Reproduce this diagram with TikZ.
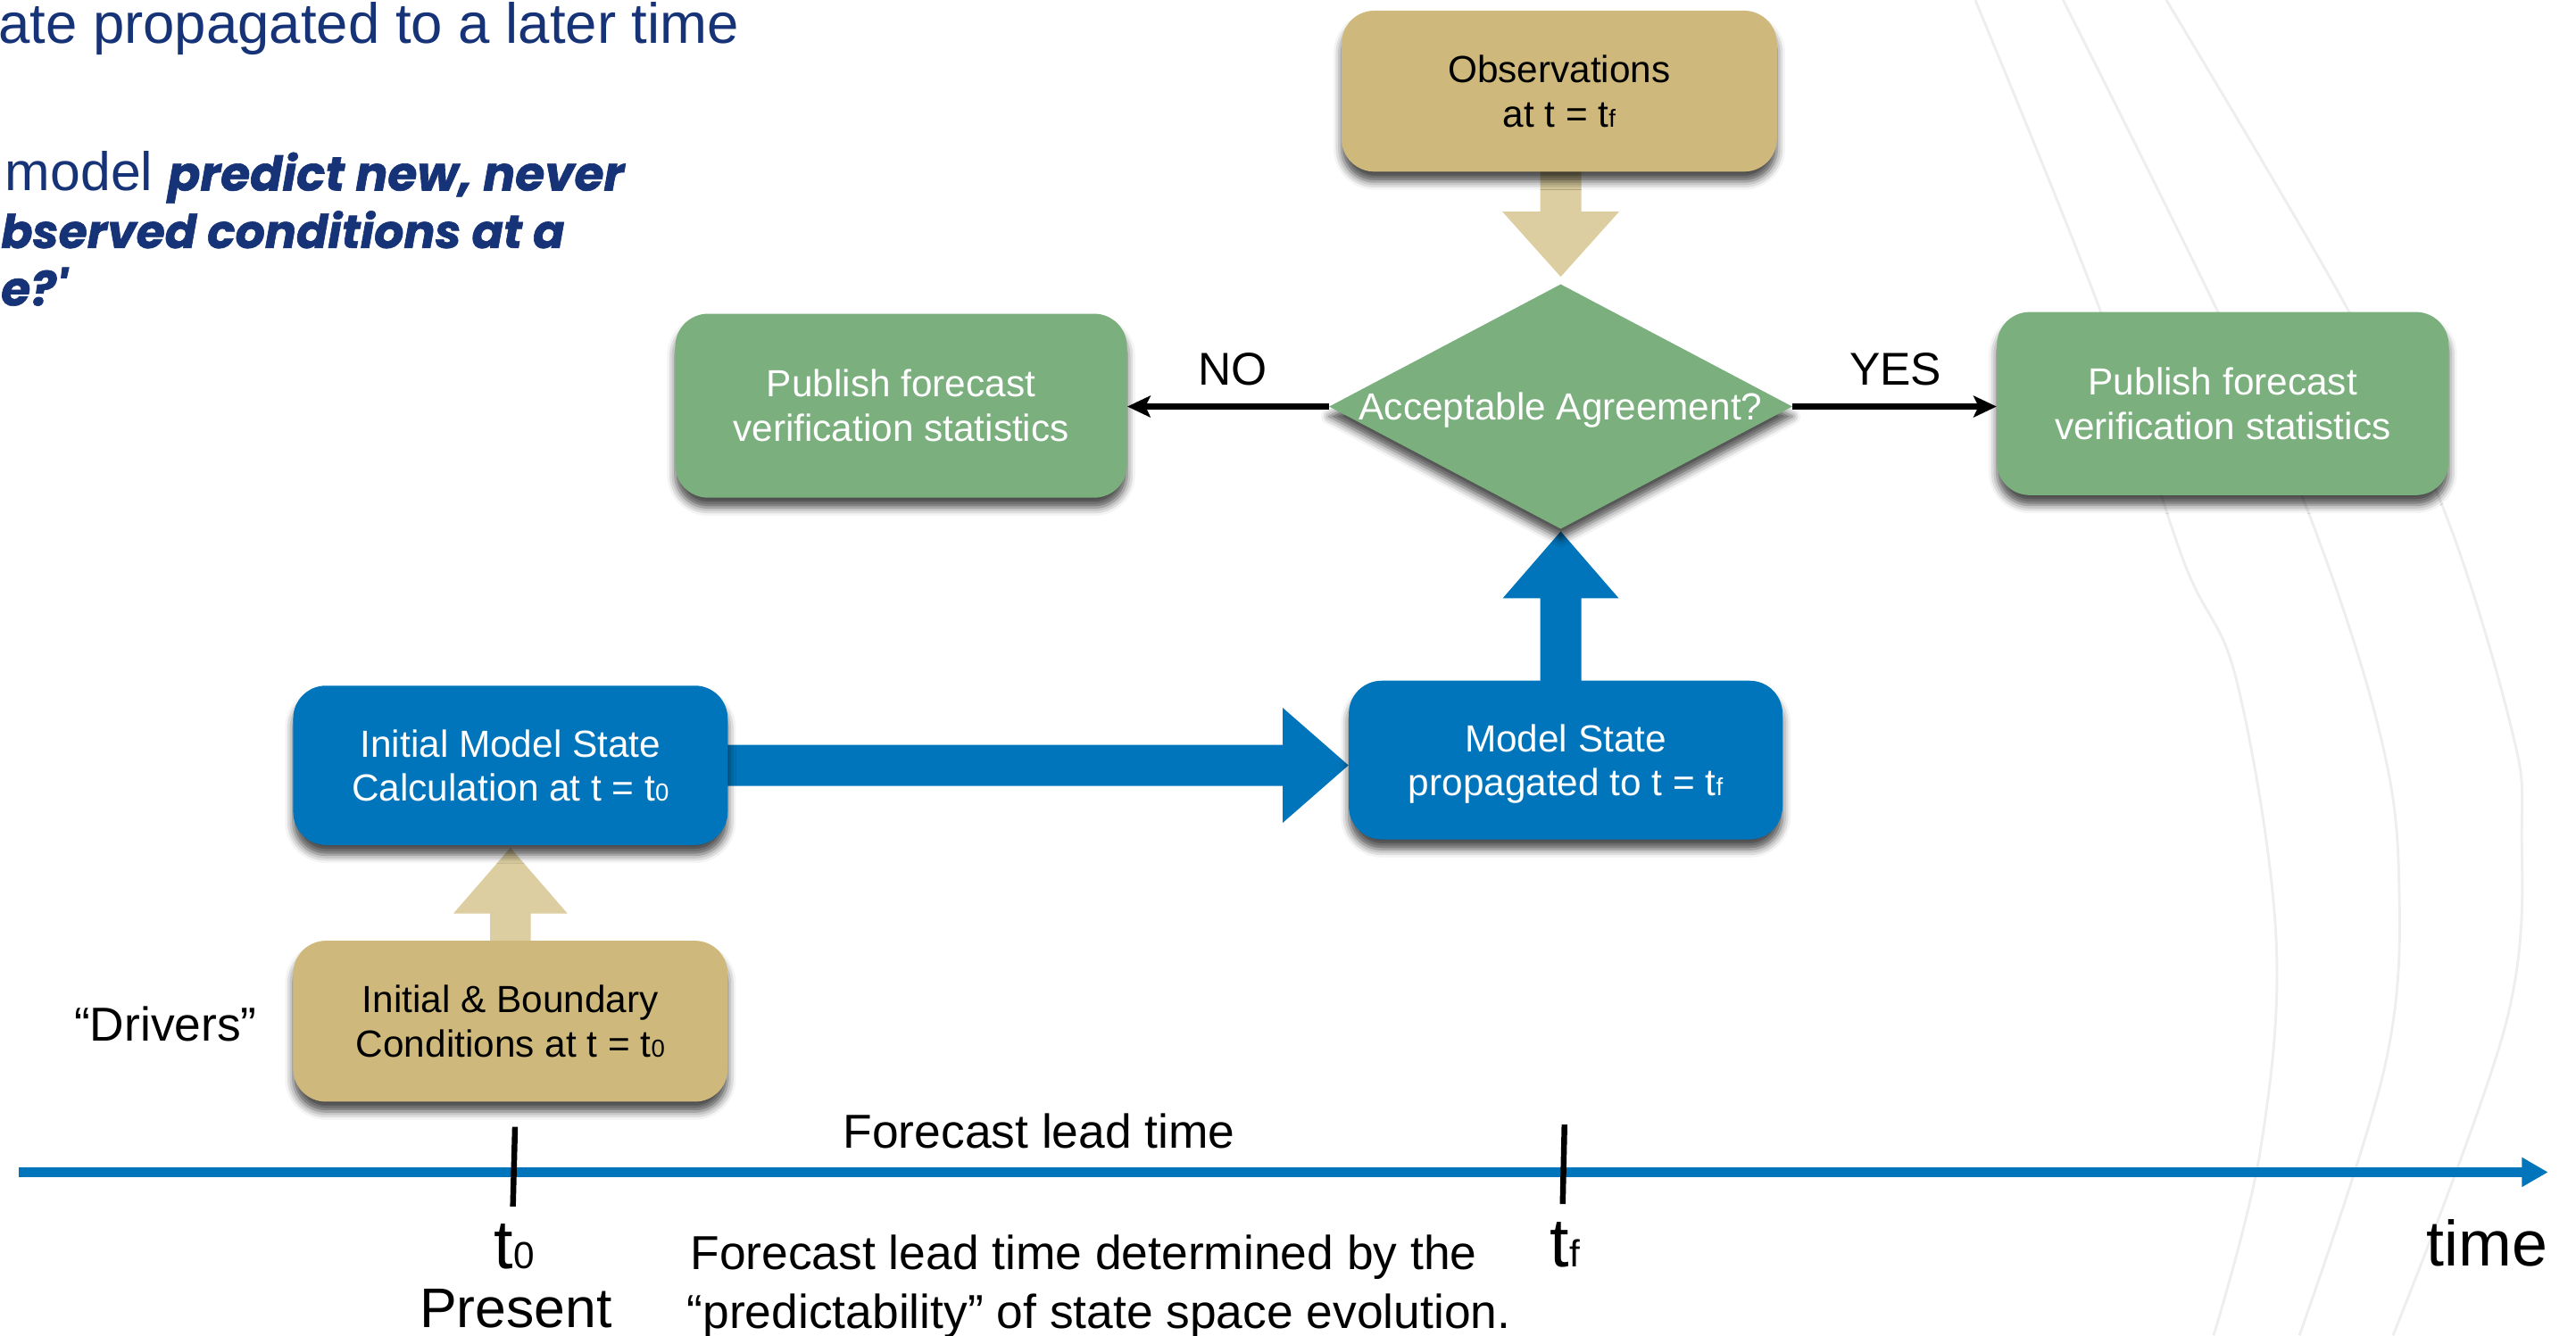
\documentclass[tikz,border=0pt]{standalone}
\usepackage{fontspec}
\usepackage{graphicx}
\setmainfont{Liberation Sans}
\newfontfamily\popfont{Poppins}[BoldItalicFeatures={FakeBold=1.2}]
\usetikzlibrary{shapes.geometric,arrows.meta,calc,shadows.blur}
\pgfdeclarelayer{bg}
\pgfsetlayers{bg,main}
\definecolor{mblue}{RGB}{0,117,187}
\definecolor{mgreen}{RGB}{123,175,126}
\definecolor{mtan}{RGB}{206,184,124}
\definecolor{ltan}{RGB}{220,206,160}
\definecolor{navy}{RGB}{22,51,119}
\definecolor{bgl}{RGB}{238,238,238}
\newcommand{\fs}[2]{\fontsize{#1}{#2}\selectfont}
\newcommand{\bsub}[1]{{\fontsize{15}{15}\selectfont #1}}
\newcommand{\asub}[1]{{\fontsize{23}{23}\selectfont #1}}
\tikzset{
  shd/.style={blur shadow={shadow xshift=0pt,shadow yshift=-6pt,shadow blur radius=5pt,shadow opacity=70}},
  rbox/.style={rounded corners=20pt, inner sep=0pt, align=center, font=\fs{23}{27}, shd},
  bluebox/.style={rbox, fill=mblue, text=white},
  greenbox/.style={rbox, fill=mgreen, text=white},
  tanbox/.style={rbox, fill=mtan, text=black},
  conn/.style={line width=3.8pt, -{Stealth[length=14pt,width=13pt,inset=3pt]}},
  lbl/.style={inner sep=0pt, text=black},
  bgcurve/.style={draw=bgl, line width=1.6pt},
}
\begin{document}
\begin{tikzpicture}[x=1pt,y=-1pt]
\useasboundingbox (0,0) rectangle (1568,813);
% ---------- nodes ----------
\node[tanbox, minimum width=265pt, minimum height=98pt] (obs) at (949.1,55.5) {Observations\\at t = t\bsub{f}};
\node[greenbox, minimum width=275pt, minimum height=112pt] (pubL) at (548.5,247) {Publish forecast\\verification statistics};
\node[greenbox, minimum width=275pt, minimum height=111.5pt] (pubR) at (1353,245.7) {Publish forecast\\verification statistics};
\node[diamond, fill=mgreen, minimum width=282pt, minimum height=149pt, inner sep=0pt, shd] (dia) at (950,247.5) {};
\node[lbl, text=white, font=\fs{23}{27}, anchor=base] (diat) at (950,255.5) {Acceptable Agreement?};
\node[bluebox, minimum width=264.5pt, minimum height=97pt, text depth=-2pt] (init) at (310.7,465.9) {Initial Model State\\Calculation at t = t\bsub{0}};
\node[bluebox, minimum width=264pt, minimum height=96.6pt, text depth=-2pt] (model) at (953,462.7) {Model State\\propagated to t = t\bsub{f}};
\node[tanbox, minimum width=264.5pt, minimum height=98pt] (ibc) at (310.7,621.7) {Initial \& Boundary\\Conditions at t = t\bsub{0}};
% ---------- background layer: curves and block arrows ----------
\begin{pgfonlayer}{bg}
\clip (0,0) rectangle (1568,813);
\draw[bgcurve] plot[smooth, tension=0.6] coordinates {(1202.3,0) (1278.4,189) (1328.4,339.6) (1361.5,414.7) (1385.4,570.3) (1375.9,700) (1347.4,813)};
\draw[bgcurve] plot[smooth, tension=0.6] coordinates {(1255.8,0) (1349.6,189) (1404.5,310.4) (1447.2,440.7) (1460.2,534) (1451.9,648) (1399.6,813)};
\draw[bgcurve] plot[smooth, tension=0.6] coordinates {(1318.6,0) (1429.4,189) (1487.6,310.4) (1528,440.7) (1535,502.9) (1525.6,622) (1456.6,813)};
% tan arrow obs -> dia
\coordinate (dtip) at ($(dia.north)+(0,-4.3)$);
\coordinate (dtop) at (dia.north |- obs.south);
\fill[ltan] ($(dtop)+(-12.5,-2)$) -- ($(dtop)+(12.5,-2)$) -- ($(dtip)+(12.5,-39.6)$) -- ($(dtip)+(35.5,-39.6)$) -- (dtip) -- ($(dtip)+(-35.5,-39.6)$) -- ($(dtip)+(-12.5,-39.6)$) -- cycle;
% tan arrow ibc -> init
\coordinate (utip) at ($(init.south)+(0,1.5)$);
\coordinate (ubot) at (utip |- ibc.north);
\fill[ltan] ($(ubot)+(-12.3,2)$) -- ($(utip)+(-12.3,40)$) -- ($(utip)+(-34.7,40)$) -- (utip) -- ($(utip)+(34.7,40)$) -- ($(utip)+(12.3,40)$) -- ($(ubot)+(12.3,2)$) -- cycle;
% blue arrow init -> model
\coordinate (rtip) at (model.west |- init.east);
\fill[mblue] ($(init.east)+(-2,-12.5)$) -- ($(rtip)+(-40,-12.5)$) -- ($(rtip)+(-40,-35)$) -- (rtip) -- ($(rtip)+(-40,35)$) -- ($(rtip)+(-40,12.5)$) -- ($(init.east)+(-2,12.5)$) -- cycle;
% blue arrow model -> dia
\coordinate (btip) at ($(dia.south)+(0,1.3)$);
\coordinate (bbot) at (btip |- model.north);
\fill[mblue] ($(bbot)+(-12.5,2)$) -- ($(btip)+(-12.5,40.7)$) -- ($(btip)+(-35.3,40.7)$) -- (btip) -- ($(btip)+(35.3,40.7)$) -- ($(btip)+(12.5,40.7)$) -- ($(bbot)+(12.5,2)$) -- cycle;
\end{pgfonlayer}
% ---------- connectors ----------
\draw[conn] (dia.west) -- (dia.west -| pubL.east);
\draw[conn] (dia.east) -- (dia.east -| pubR.west);
\node[lbl, anchor=base west, font=\fs{28}{32}] (no) at (729,234.5) {NO};
\node[lbl, anchor=base west, font=\fs{28}{32}] (yes) at (1125.6,234.5) {YES};
% ---------- time axis ----------
\coordinate (axL) at (11.4,713.6);
\coordinate (axR) at (1551,713.6);
\draw[mblue, line width=6pt, -{Triangle[length=16pt,width=17pt]}] (axL) -- (axR);
\draw[line width=3.5pt] (313.5,686) -- (312.2,734.5);
\draw[line width=3.5pt] (952.3,684.6) -- (951.2,733);
\node[lbl, anchor=base, font=\fs{42}{44}] (t0) at (313,772.5) {t\asub{0}};
\node[lbl, anchor=base, font=\fs{34}{38}] (present) at (314,808) {Present};
\node[lbl, anchor=base, font=\fs{42}{44}] (tf) at (952.5,771) {t\asub{f}};
\node[lbl, anchor=base east, font=\fs{39}{42}] (time) at (1551,770.5) {time};
\node[lbl, anchor=base west, font=\fs{29}{33}] (flt) at (513,699) {Forecast lead time};
\node[lbl, anchor=base west, font=\fs{29}{33}] (det1) at (420,773) {Forecast lead time determined by the};
\node[lbl, anchor=base west, font=\fs{29}{33}] (det2) at (418,808.5) {“predictability” of state space evolution.};
\node[lbl, anchor=base west, font=\fs{29}{33}] (drv) at (45,634) {“Drivers”};
% ---------- slide text top-left ----------
\node[lbl, text=navy, anchor=base east, font=\fs{34.5}{40}] (title) at (450,26.5) {ate propagated to a later time};
\node[lbl, text=navy, anchor=base west, font=\fs{33}{37}] (q1) at (3,116) {model {\popfont\bfseries\itshape\fontsize{29}{33}\selectfont predict new, never}};
\node[lbl, text=navy, anchor=base west, font=\popfont\bfseries\itshape\fs{28.3}{33}] (q2) at (0.5,151) {bserved conditions at a};
\node[lbl, text=navy, anchor=base west, font=\popfont\bfseries\itshape\fs{29}{33}] (q3) at (0.5,186) {e?'};
\end{tikzpicture}
\end{document}
